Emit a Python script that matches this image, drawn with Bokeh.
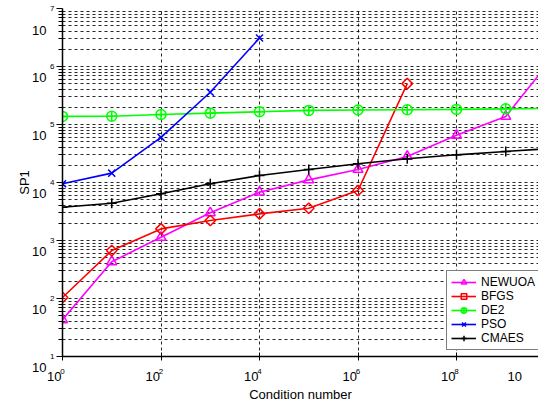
import math
from bokeh.plotting import figure
from bokeh.models import (FixedTicker, Legend, LegendItem, LogAxis,
                          ColumnDataSource, Range1d)
from bokeh.embed import file_html
from bokeh.resources import INLINE

# ---------------- data ----------------
cond_full = [1e0, 1e1, 1e2, 1e3, 1e4, 1e5, 1e6, 1e7, 1e8, 1e9, 1e10]
newuoa = [43, 430, 1135, 3000, 6800, 1.11e4, 1.68e4, 2.81e4, 6.5e4, 1.38e5, 1.6e6]
cond_bfgs = [1e0, 1e1, 1e2, 1e3, 1e4, 1e5, 1e6, 1e7]
bfgs = [104, 670, 1585, 2210, 2880, 3600, 7280, 5.07e5]
de2 = [1.38e5, 1.39e5, 1.49e5, 1.57e5, 1.66e5, 1.75e5, 1.78e5, 1.8e5, 1.82e5, 1.86e5, 1.9e5]
cond_pso = [1e0, 1e1, 1e2, 1e3, 1e4]
pso = [9.5e3, 1.45e4, 6.0e4, 3.6e5, 3.1e6]
cmaes = [3750, 4390, 6380, 9500, 1.32e4, 1.68e4, 2.1e4, 2.57e4, 3.0e4, 3.43e4, 3.9e4]

x_tick_vals = [1e0, 1e2, 1e4, 1e6, 1e8, 1e10]
x_tick_exps = ["0", "2", "4", "6", "8", "10"]
x_grid_vals = [1e2, 1e4, 1e6, 1e8]
y_tick_vals = [1e1, 1e2, 1e3, 1e4, 1e5, 1e6, 1e7]
y_tick_exps = ["1", "2", "3", "4", "5", "6", "7"]
y_minor_vals = [m * 10 ** d for d in range(1, 7) for m in range(2, 10)]
tick_base = "10"

series = [
    ("NEWUOA", cond_full, newuoa, "#FF00FF", "triangle"),
    ("BFGS", cond_bfgs, bfgs, "#FF0000", "diamond"),
    ("DE2", cond_full, de2, "#00FF00", "circle_cross"),
    ("PSO", cond_pso, pso, "#0000FF", "x"),
    ("CMAES", cond_full, cmaes, "#000000", "cross"),
]

FONT = "Liberation Sans"
W, H = 538, 406
BL, BR, BT, BB = 62, 0, 8, 50
frame_w = W - BL - BR
ppd_x = 49.25
x_end = 10 ** (frame_w / ppd_x)

p = figure(width=W, height=H, x_axis_type="log", y_axis_type="log",
           x_range=Range1d(1, x_end), y_range=Range1d(10, 1e7),
           output_backend="svg", toolbar_location=None,
           min_border_left=BL, min_border_right=BR,
           min_border_top=BT, min_border_bottom=BB)
p.outline_line_color = None
p.background_fill_color = "white"
p.border_fill_color = "white"

# ---- main x axis: ticks + exponents
x_in = [t for t in x_tick_vals if t <= x_end]
xa = p.xaxis[0]
xa.ticker = FixedTicker(ticks=x_in, minor_ticks=[])
xa.major_label_overrides = {t: e for t, e in zip(x_tick_vals, x_tick_exps) if t <= x_end}
xa.major_tick_in = 4
xa.major_tick_out = 4
xa.major_label_standoff = 8
xa.major_label_text_font_size = "8px"

# ---- main y axis: ticks + exponents
ya = p.yaxis[0]
ya.ticker = FixedTicker(ticks=y_tick_vals, minor_ticks=y_minor_vals)
ya.major_label_overrides = dict(zip(y_tick_vals, y_tick_exps))
ya.major_tick_in = 0
ya.major_tick_out = 6
ya.minor_tick_in = 0
ya.minor_tick_out = 4
ya.major_label_standoff = 2
ya.major_label_text_font_size = "8px"

for ax in (xa, ya):
    ax.axis_line_color = "black"
    ax.axis_line_width = 1.5
    ax.major_tick_line_color = "black"
    ax.minor_tick_line_color = "black"
    ax.major_label_text_font = FONT
    ax.major_label_text_color = "black"

# ---- outer axes carrying the "10" part (offset with spacing characters)
x_lab_ticks = list(x_in)
if x_tick_vals[-1] > x_end:
    x_lab_ticks.append(x_end)
x_pad = tick_base + "\u2003 "
xb = LogAxis(ticker=FixedTicker(ticks=x_lab_ticks, minor_ticks=[]),
             major_label_overrides={t: x_pad for t in x_lab_ticks},
             axis_line_color=None, major_tick_line_color=None,
             minor_tick_line_color=None, major_tick_in=0, major_tick_out=0,
             major_label_standoff=-8, major_label_text_font=FONT,
             major_label_text_font_size="13px", major_label_text_color="black",
             axis_label="Condition number", axis_label_standoff=0,
             axis_label_text_font=FONT, axis_label_text_font_size="13px",
             axis_label_text_font_style="normal", axis_label_text_color="black")
p.add_layout(xb, "below")

y_pad = "\u2003\n" + tick_base
yb = LogAxis(ticker=FixedTicker(ticks=y_tick_vals, minor_ticks=[]),
             major_label_overrides={t: y_pad for t in y_tick_vals},
             axis_line_color=None, major_tick_line_color=None,
             minor_tick_line_color=None, major_tick_in=0, major_tick_out=0,
             major_label_standoff=1, major_label_text_font=FONT,
             major_label_text_font_size="13px", major_label_text_color="black",
             major_label_text_line_height=1.5,
             axis_label="SP1", axis_label_standoff=-3,
             axis_label_text_font=FONT, axis_label_text_font_size="13px",
             axis_label_text_font_style="normal", axis_label_text_color="black")
p.add_layout(yb, "left")

# grids
p.xgrid.ticker = FixedTicker(ticks=x_grid_vals, minor_ticks=[])
p.xgrid.grid_line_color = "black"
p.xgrid.grid_line_dash = "3 3"
p.xgrid.grid_line_alpha = 0.85
p.ygrid.ticker = FixedTicker(ticks=y_tick_vals, minor_ticks=y_minor_vals)
p.ygrid.grid_line_color = "black"
p.ygrid.grid_line_dash = "3 3"
p.ygrid.grid_line_alpha = 0.85
p.ygrid.minor_grid_line_color = "black"
p.ygrid.minor_grid_line_dash = "3 3"
p.ygrid.minor_grid_line_alpha = 0.85

# series
items = []
for name, xs, ys, col, mk in series:
    src = ColumnDataSource(dict(x=xs, y=ys))
    lr = p.line("x", "y", source=src, line_color=col, line_width=1.6)
    if mk == "diamond":
        sr = p.scatter("x", "y", source=src, marker="square", angle=math.pi / 4,
                       size=7.5, line_color=col, line_width=1.5, fill_color=None)
    else:
        sr = p.scatter("x", "y", source=src, marker=mk, size=10,
                       line_color=col, line_width=1.5, fill_color=None)
    items.append(LegendItem(label=name, renderers=[lr, sr]))

legend = Legend(items=items, location=(frame_w - 92, 6),
                label_text_font=FONT, label_text_font_size="12px",
                label_text_color="black", label_text_line_height=1.0,
                glyph_width=25, glyph_height=14, label_height=14,
                label_standoff=5, label_width=50,
                spacing=0, padding=4, margin=0,
                border_line_color="black", border_line_width=1,
                background_fill_color="white", background_fill_alpha=1.0)
p.add_layout(legend, "center")

open("out.html", "w").write(file_html(p, INLINE))
